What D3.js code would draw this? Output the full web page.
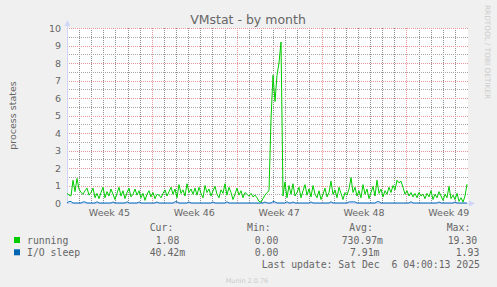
<!DOCTYPE html>
<html><head><meta charset="utf-8">
<script src="https://cdn.jsdelivr.net/npm/d3@7"></script>
<style>html,body{margin:0;padding:0;background:#f0f0f0;}svg{display:block;}</style>
</head><body>
<script>
// ---- data ----
const title = "VMstat - by month";
const yLabel = "process states";
const startTime = "2025-11-03T00:00:00Z";
const endTime = "2025-12-06T00:00:00Z";
const yTicks = [0,1,2,3,4,5,6,7,8,9,10];
const seriesNames = ["running", "I/O sleep"];
const seriesColors = ["#00cc00", "#0066b3"];
const running = [
0.55,0.45,0.4,1.3,0.65,1.4,0.8,0.6,0.5,0.7,0.85,0.45,0.6,0.85,0.3,0.55,0.25,
0.6,0.9,0.3,0.65,0.4,0.8,0.5,0.2,0.55,0.9,0.4,0.7,0.25,0.6,0.85,0.35,0.5,
0.8,0.45,0.7,0.3,0.55,0.15,0.5,0.7,0.35,0.6,0.25,0.5,0.45,0.3,0.55,0.75,0.4,
0.65,0.9,0.5,0.8,0.3,1.05,0.55,0.75,0.4,1.1,0.6,0.8,0.5,0.85,0.45,0.9,0.55,
0.3,1.0,0.6,0.8,0.4,0.7,0.95,0.5,0.3,0.75,0.55,1.1,0.45,0.9,0.6,0.2,0.5,
0.85,0.45,0.7,0.3,0.6,0.5,0.4,0.55,0.35,0.45,0.3,0.1,0.05,0.25,0.45,0.6,0.7,
4.8,7.3,5.8,7.3,8.0,9.2,
0.4,1.2,0.3,1.0,0.5,1.1,0.4,0.6,0.9,0.3,0.7,1.05,0.45,0.8,0.35,1.0,0.5,
0.3,0.7,0.2,0.5,0.85,0.35,0.6,1.25,0.5,0.75,0.3,0.9,0.55,0.2,0.6,0.45,0.8,
1.45,0.6,0.9,0.4,0.7,0.3,1.05,0.5,0.8,0.25,0.6,0.95,0.4,1.3,0.55,0.8,0.35,
0.7,0.5,0.9,0.6,1.0,0.75,1.3,1.15,1.25,0.9,0.5,0.7,0.4,0.6,0.35,0.55,0.3,
0.6,0.4,0.5,0.25,0.55,0.35,0.7,0.2,0.5,0.3,0.65,0.4,0.15,0.5,0.3,0.95,0.25,
0.45,0.2,0.55,0.1,0.3,0.05,0.4,1.08
];
const ioSleep = [
0,0.08,0.08,0,0,0,0,0,0.06,0.06,0,0,0,0,0,0.07,0,
0,0,0,0,0,0,0.06,0,0,0,0,0,0,0.07,0,0,0,
0,0,0.06,0,0,0,0,0,0,0,0,0.06,0,0,0,0,0,
0,0,0,0.07,0.07,0,0,0,0,0,0.06,0,0,0,0,0,0,
0,0,0,0,0,0.06,0,0,0,0,0,0,0.07,0,0,0,0,
0,0,0,0,0,0,0,0,0,0,0,0,0,0,0.06,0,0,
0,0.08,0.06,0,0,0,
0,0,0.07,0,0,0.06,0,0,0,0,0,0,0,0,0.06,0,0,
0,0,0,0,0,0,0,0.07,0,0,0,0,0,0,0,0,0.06,
0.06,0.06,0.06,0,0,0,0,0,0,0,0,0,0,0.07,0.07,0,0,
0,0,0,0,0,0,0,0,0,0,0,0,0,0.07,0,0,0,
0,0,0,0,0,0,0,0,0,0,0.06,0,0,0,0,0,0,
0,0.06,0,0,0,0,0,0
];
const legendHeader = ["Cur:", "Min:", "Avg:", "Max:"];
const legendValues = [
  ["1.08", "0.00", "730.97m", "19.30"],
  ["40.42m", "0.00", "7.91m", "1.93"]
];
const lastUpdate = "Last update: Sat Dec  6 04:00:13 2025";
const footer = "Munin 2.0.76";
const sideText = "RRDTOOL / TOBI OETIKER";

// ---- layout ----
const W = 497, H = 287;
const L = 67, R = 467, T = 28, B = 203;
const fontColor = "#666666";

const svg = d3.select("body").append("svg").attr("width", W).attr("height", H);
svg.append("rect").attr("width", W).attr("height", H).attr("fill", "#f0f0f0");
svg.append("rect").attr("x", L).attr("y", T).attr("width", R - L + 1).attr("height", B - T).attr("fill", "#ffffff");

const t0 = new Date(startTime), t1 = new Date(endTime);
const x = d3.scaleUtc().domain([t0, t1]).range([L, R]);
const y = d3.scaleLinear().domain([0, 10]).range([B, T]);

// grid
const vMinorColor = "#8e8e8e", hMinorColor = "#a6a6a6", majorColor = "#e59696";
const g = svg.append("g");
const days = d3.utcDay.range(d3.utcDay.offset(t0, 1), t1);
g.selectAll("line.vmin").data(days).join("line").attr("class", "vmin")
  .attr("x1", d => Math.round(x(d)) + 0.5).attr("x2", d => Math.round(x(d)) + 0.5)
  .attr("y1", T).attr("y2", B)
  .attr("stroke", vMinorColor).attr("stroke-dasharray", "1,1");
const halfs = d3.range(0.5, 10, 1);
g.selectAll("line.hmin").data(halfs).join("line").attr("class", "hmin")
  .attr("x1", L).attr("x2", R + 1)
  .attr("y1", d => Math.round(y(d)) + 0.5).attr("y2", d => Math.round(y(d)) + 0.5)
  .attr("stroke", hMinorColor).attr("stroke-dasharray", "1,1");
const weeks = d3.utcMonday.range(d3.utcDay.offset(t0, 1), t1);
g.selectAll("line.vmaj").data(weeks).join("line").attr("class", "vmaj")
  .attr("x1", d => Math.round(x(d)) + 0.5).attr("x2", d => Math.round(x(d)) + 0.5)
  .attr("y1", T).attr("y2", B)
  .attr("stroke", majorColor).attr("stroke-dasharray", "1,1");
g.selectAll("line.hmaj").data(yTicks.filter(d => d > 0)).join("line").attr("class", "hmaj")
  .attr("x1", L).attr("x2", R + 1)
  .attr("y1", d => Math.round(y(d)) + 0.5).attr("y2", d => Math.round(y(d)) + 0.5)
  .attr("stroke", majorColor).attr("stroke-dasharray", "1,1");

// axes lines + arrows
const axisColor = "#cfd6f8";
svg.append("line").attr("x1", L + 0.5).attr("x2", L + 0.5).attr("y1", B).attr("y2", 22).attr("stroke", axisColor);
svg.append("path").attr("d", `M${L - 2.5},${26}L${L + 0.5},${20}L${L + 3.5},${26}Z`).attr("fill", axisColor);
svg.append("line").attr("x1", L).attr("x2", R + 4).attr("y1", B + 0.5).attr("y2", B + 0.5).attr("stroke", axisColor);
svg.append("path").attr("d", `M${R + 2},${B - 2.5}L${R + 8},${B + 0.5}L${R + 2},${B + 3.5}Z`).attr("fill", axisColor);

// y tick labels
svg.selectAll("text.ytl").data(yTicks).join("text").attr("class", "ytl")
  .attr("x", 61).attr("y", d => y(d) + 3.5)
  .attr("text-anchor", "end").attr("font-family", "DejaVu Sans").attr("font-size", "9.5px")
  .attr("fill", fontColor).text(d => d);

// x labels
const weekLabels = d3.utcMonday.range(t0, t1).map(d => new Date(+d + 3.5 * 864e5));
svg.selectAll("text.xtl").data(weekLabels).join("text").attr("class", "xtl")
  .attr("x", d => x(d)).attr("y", 215.5)
  .attr("text-anchor", "middle").attr("font-family", "DejaVu Sans").attr("font-size", "9.5px")
  .attr("fill", fontColor).text(d => d3.utcFormat("Week %V")(d));

// series
const tAtN = (i, n) => new Date(+t0 + i * (t1 - t0) / (n - 1));
svg.append("path").datum(ioSleep)
  .attr("d", d3.line().x((d, i) => x(tAtN(i, ioSleep.length))).y(d => y(d)))
  .attr("fill", "none").attr("stroke", seriesColors[1]).attr("stroke-width", 1);
svg.append("path").datum(running)
  .attr("d", d3.line().x((d, i) => x(tAtN(i, running.length))).y(d => y(d)))
  .attr("fill", "none").attr("stroke", seriesColors[0]).attr("stroke-width", 1);

// title
svg.append("text").attr("x", 248).attr("y", 23.5).attr("text-anchor", "middle")
  .attr("font-family", "DejaVu Sans").attr("font-size", "12.5px").attr("fill", fontColor).text(title);
// y label
svg.append("text").attr("transform", `translate(15.5,${(T + B) / 2}) rotate(-90)`).attr("text-anchor", "middle")
  .attr("font-family", "DejaVu Sans").attr("font-size", "9.5px").attr("fill", fontColor).text(yLabel);
// side text
svg.append("text").attr("transform", `translate(484.5,5) rotate(90)`).attr("text-anchor", "start")
  .attr("font-family", "DejaVu Sans").attr("font-size", "7.3px").attr("fill", "#cccccc").text(sideText);

// legend
const mono = "DejaVu Sans Mono";
const lf = "9.8px";
const headX = [149.7, 247, 349.3, 446.7];
const rowY = [231, 243.5, 255.8];
legendHeader.forEach((h, i) => {
  svg.append("text").attr("x", headX[i]).attr("y", rowY[0])
    .attr("font-family", mono).attr("font-size", lf).attr("fill", fontColor).text(h);
});
const valStartX = [
  [155.7, 254.7, 341.7, 447.7],
  [149.7, 254.7, 350.0, 455.7]
];
legendValues.forEach((row, r) => {
  svg.append("rect").attr("x", 14).attr("y", rowY[r + 1] - 6.5).attr("width", 6).attr("height", 6).attr("fill", seriesColors[r]);
  svg.append("text").attr("x", 27).attr("y", rowY[r + 1]).attr("font-family", mono).attr("font-size", lf)
    .attr("fill", fontColor).text(seriesNames[r]);
  row.forEach((v, c) => {
    svg.append("text").attr("x", valStartX[r][c]).attr("y", rowY[r + 1])
      .attr("font-family", mono).attr("font-size", lf)
      .attr("fill", fontColor).text(v);
  });
});
svg.append("text").attr("x", 261.7).attr("y", 267.8).attr("font-family", mono).attr("font-size", lf)
  .attr("fill", fontColor).attr("xml:space", "preserve").style("white-space", "pre").text(lastUpdate);
svg.append("text").attr("x", 247).attr("y", 283).attr("text-anchor", "middle")
  .attr("font-family", "DejaVu Sans").attr("font-size", "6.5px").attr("fill", "#cccccc").text(footer);
</script>
</body></html>
